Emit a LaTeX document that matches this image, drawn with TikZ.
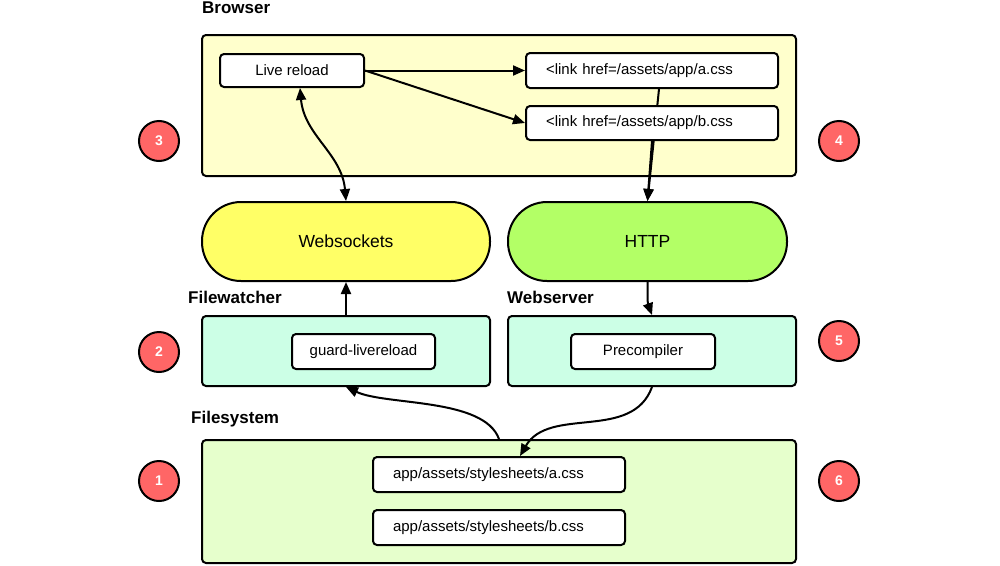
\documentclass[tikz,border=0pt]{standalone}
\usepackage{fontspec}
\setmainfont{Liberation Sans}
\usetikzlibrary{arrows.meta,positioning}
\definecolor{browserbg}{HTML}{FFFFCC}
\definecolor{wsyellow}{HTML}{FFFF66}
\definecolor{httpgreen}{HTML}{B3FF66}
\definecolor{servermint}{HTML}{CCFFE6}
\definecolor{fsgreen}{HTML}{E6FFCC}
\definecolor{numred}{HTML}{FF6666}
\pgfdeclarelayer{back}
\pgfdeclarelayer{wires}
\pgfsetlayers{back,wires,main}

\begin{document}
\begin{tikzpicture}[x=1pt, y=1pt, >={Triangle[length=12pt,width=10pt]},
    group/.style={draw, line width=2pt, rounded corners=4pt, inner sep=0pt},
    item/.style={draw, fill=white, line width=2pt, rounded corners=4pt, minimum height=35pt, inner sep=0pt, font=\fontsize{15}{18}\selectfont},
    pathbox/.style={item, text width=212pt, inner xsep=20pt, align=left},
    pill/.style={draw, line width=2pt, rounded corners=39pt, minimum height=79pt, font=\fontsize{17.5}{21}\selectfont},
    title/.style={anchor=west, inner sep=0pt, font=\bfseries\fontsize{17}{20}\selectfont},
    num/.style={circle, draw, fill=numred, line width=2pt, minimum size=40pt, inner sep=0pt, text=white, font=\bfseries\fontsize{14}{16}\selectfont},
    wire/.style={line width=2pt, ->}]
    \useasboundingbox (0,0) rectangle (1000,-565);

    % Containers
    \begin{pgfonlayer}{back}
        \node[group, fill=browserbg, minimum width=594pt, minimum height=141pt] (browser) at (499,-105.5) {};
        \node[group, fill=servermint, minimum width=288pt, minimum height=70pt] (watcher) at (346,-351) {};
        \node[group, fill=servermint, minimum width=288pt, minimum height=70pt] (server) at (652,-351) {};
        \node[group, fill=fsgreen, minimum width=594pt, minimum height=123pt] (fs) at (499,-501.5) {};
    \end{pgfonlayer}

    % Titles
    \node[title] (tbrowser) at (202,-8) {Browser};
    \node[title] (twatcher) at (188,-297) {Filewatcher};
    \node[title] (tserver) at (507,-297) {Webserver};
    \node[title] (tfs) at (191,-419) {Filesystem};

    % Browser
    \node[item, minimum width=144pt, minimum height=33pt] (live) at (292,-70.5) {Live reload};
    \node[pathbox] (linka) at (652,-70.5) {<link href=/assets/app/a.css};
    \node[pathbox, minimum height=34pt] (linkb) at (652,-123) {<link href=/assets/app/b.css};

    % Transports
    \node[pill, fill=wsyellow, minimum width=288pt] (ws) at (346,-241.5) {Websockets};
    \node[pill, fill=httpgreen, minimum width=279pt] (http) at (647.5,-241.5) {HTTP};

    % Servers
    \node[item, minimum width=143pt] (guard) at (363.5,-351.5) {guard-livereload};
    \node[item, minimum width=144pt] (precomp) at (643,-351.5) {Precompiler};

    % Files
    \node[pathbox] (fsa) at (499,-474.5) {app/assets/stylesheets/a.css};
    \node[pathbox] (fsb) at (499,-527.5) {app/assets/stylesheets/b.css};

    % Steps
    \node[num] (n1) at (159,-481) {1};
    \node[num] (n2) at (159,-352) {2};
    \node[num] (n3) at (159,-141) {3};
    \node[num] (n4) at (839,-141) {4};
    \node[num] (n5) at (839,-341) {5};
    \node[num] (n6) at (839,-481) {6};

    % Connectors
    \begin{pgfonlayer}{wires}
        \draw[wire, <->] ([xshift=8pt]live.south) to[out=-85, in=95] (ws.north);
        \draw[wire] (live.east) -- (linka.west);
        \draw[wire] (live.east) -- (linkb.west);
        \draw[wire] ([xshift=7pt]linka.south) -- (http.north);
        \draw[wire] (linkb.south) -- (http.north);
        \draw[wire] (http.south) to[out=-90, in=110] (server.north);
        \draw[wire] (watcher.north) -- (ws.south);
        \draw[wire] (fs.north) to[out=110, in=-25, looseness=0.7] (watcher.south);
        \draw[wire] (server.south) to[out=-110, in=60] ([xshift=21pt]fsa.north);
    \end{pgfonlayer}
\end{tikzpicture}
\end{document}
